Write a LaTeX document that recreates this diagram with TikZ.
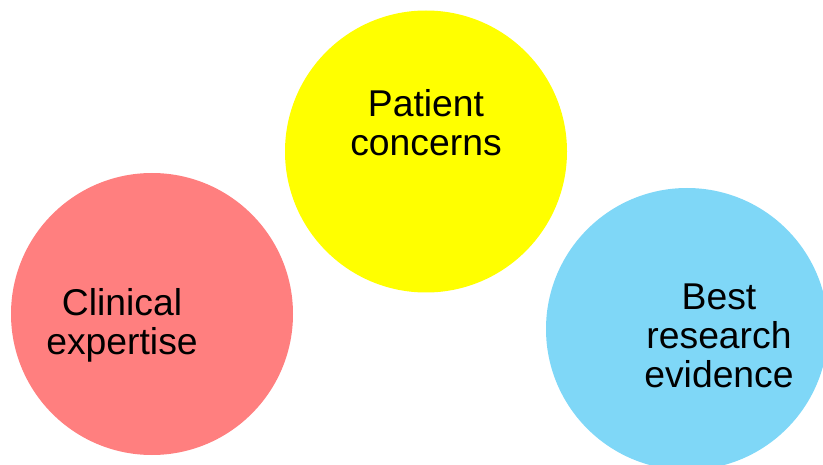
\documentclass[tikz,border=0pt]{standalone}
\usepackage{fontspec}
\setmainfont{Liberation Sans}
\definecolor{cyel}{HTML}{FFFF00}
\definecolor{cred}{HTML}{FF7F7F}
\definecolor{cblue}{HTML}{7FD7F7}
\begin{document}
\begin{tikzpicture}[x=1pt,y=-1pt,
  blob/.style={circle,draw=none,inner sep=0pt,minimum size=282pt},
  lbl/.style={anchor=north,inner sep=0pt,align=center,font=\fontsize{37.3}{39}\selectfont}]
\useasboundingbox (0,0) rectangle (823,465);
\clip (0,0) rectangle (823,465);
\node[blob,fill=cyel] (pat) at (426,151.5) {};
\node[blob,fill=cred] (cli) at (152,314) {};
\node[blob,fill=cblue] (bre) at (687,329) {};
\node[lbl] (tpat) at (426,89) {Patient\\concerns};
\node[lbl] (tcli) at (122,288.5) {Clinical\\expertise};
\node[lbl] (tbre) at (719,284) {Best\\research\\evidence};
\end{tikzpicture}
\end{document}
